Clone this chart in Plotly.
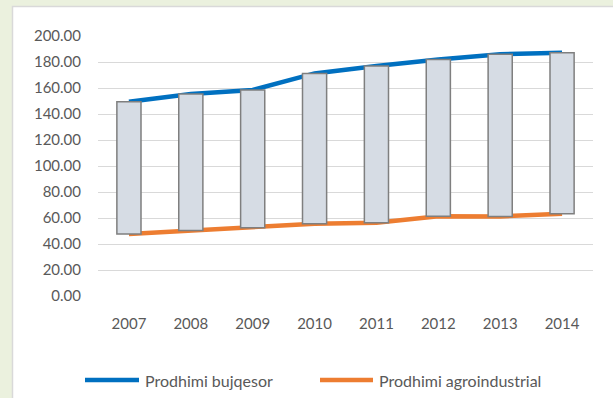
import plotly.graph_objects as go

years = ["2007", "2008", "2009", "2010", "2011", "2012", "2013", "2014"]
bujqesor = [149.5, 155.3, 158.5, 171.2, 177.0, 182.0, 186.0, 187.2]
agroindustrial = [47.6, 50.3, 52.5, 55.6, 56.4, 61.4, 61.2, 63.3]
y_ticks = [0, 20, 40, 60, 80, 100, 120, 140, 160, 180, 200]
series_names = ["Prodhimi bujqesor", "Prodhimi agroindustrial"]
series_colors = ["#0070C0", "#ED7D31"]

FONT = "Lato, 'Noto Sans', sans-serif"
TXT = "#595959"

# plot area in pixels: x 98..593, y 36..296
L, R, T, B = 98, 20, 36, 102
W, H = 613, 398
PW, PH = W - L - R, H - T - B


def px_x(p):
    return (p - L) / PW


def px_y(p):
    return (H - B - p) / PH


fig = go.Figure()

for name, color, vals in zip(series_names, series_colors, [bujqesor, agroindustrial]):
    fig.add_trace(go.Scatter(
        x=years, y=vals, mode="lines", name=name,
        line=dict(color=color, width=4.5), showlegend=False,
    ))

# up-down boxes spanning the two series, on an overlay so they sit above the lines
fig.add_trace(go.Bar(
    x=years,
    y=[b - a for b, a in zip(bujqesor, agroindustrial)],
    base=agroindustrial,
    width=0.39,
    marker=dict(color="#D6DCE4", line=dict(color="#7F7F7F", width=1.5)),
    showlegend=False, hoverinfo="skip",
    xaxis="x2", yaxis="y2",
))

# white chart panel on the green frame
fig.add_shape(type="rect", xref="paper", yref="paper",
              x0=px_x(12.5), x1=px_x(640), y0=px_y(420), y1=px_y(6.5),
              fillcolor="white", line=dict(color="#D9D9D9", width=1.5),
              layer="below")

# legend: line sample + label for each series
legend_items = [(85, 139, 143), (320, 373, 377)]
for (x0, x1, xt), name, color in zip(legend_items, series_names, series_colors):
    fig.add_shape(type="line", xref="paper", yref="paper",
                  x0=px_x(x0), x1=px_x(x1), y0=px_y(380), y1=px_y(380),
                  line=dict(color=color, width=4.5))
    fig.add_annotation(xref="paper", yref="paper", x=px_x(xt), y=px_y(380),
                       text=name, showarrow=False, xanchor="left", yanchor="middle",
                       font=dict(size=16, color=TXT, family=FONT))

fig.update_layout(
    width=W, height=H,
    margin=dict(l=L, r=R, t=T, b=B),
    paper_bgcolor="#EBF1DE",
    plot_bgcolor="white",
    font=dict(family=FONT, color=TXT, size=15),
    showlegend=False,
    xaxis=dict(showgrid=False, showline=False, ticks="", tickfont=dict(size=15, color=TXT),
               ticklabelstandoff=17),
    yaxis=dict(range=[0, 200], tickvals=y_ticks, tickformat=".2f",
               showgrid=True, gridcolor="#D9D9D9", gridwidth=1,
               zeroline=False, showline=False, ticks="",
               tickfont=dict(size=15, color=TXT), ticklabelstandoff=16),
    xaxis2=dict(overlaying="x", matches="x", visible=False),
    yaxis2=dict(overlaying="y", range=[0, 200], visible=False),
    bargap=0.6,
)

fig.write_html("out.html")
